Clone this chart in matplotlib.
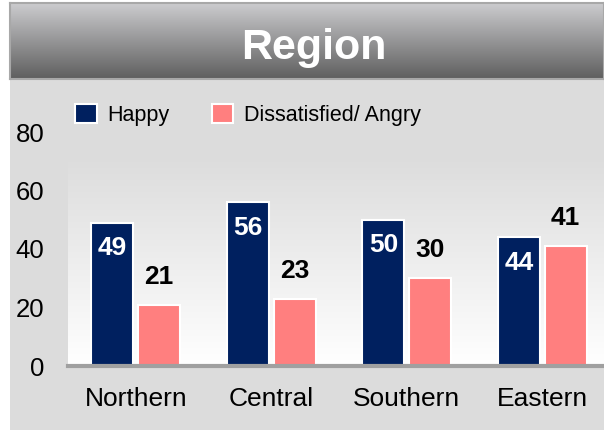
import numpy as np
import matplotlib
matplotlib.use("Agg")
import matplotlib.pyplot as plt

plt.rcParams['font.family'] = ['Liberation Sans', 'DejaVu Sans']

regions = ["Northern", "Central", "Southern", "Eastern"]
happy = [49, 56, 50, 44]
angry = [21, 23, 30, 41]
series_names = ["Happy", "Dissatisfied/ Angry"]
yticks = [0, 20, 40, 60, 80]

NAVY = "#00205f"
PINK = "#ff7f7f"
PANEL = "#dcdcdc"

W, H = 604, 430
fig = plt.figure(figsize=(W / 100, H / 100), dpi=100)
fig.patch.set_facecolor("white")

def fx(px):
    return px / W

def fy(py):
    return 1 - py / H

# light gray panel behind the chart
panel = fig.add_axes([fx(10), 0, 1 - fx(10), fy(79)])
panel.set_facecolor(PANEL)
panel.set_xticks([]); panel.set_yticks([])
for s in panel.spines.values():
    s.set_visible(False)

# title band with vertical gray gradient
band = fig.add_axes([fx(10), fy(79), 1 - fx(10), fy(3) - fy(79)])
grad = np.linspace(0, 1, 256).reshape(-1, 1)
top = np.array([0.80, 0.80, 0.81])
bot = np.array([0.37, 0.37, 0.37])
img = top + (bot - top) * grad[..., None]
band.imshow(img, aspect="auto", extent=[0, 1, 0, 1], origin="upper")
band.set_xlim(0, 1); band.set_ylim(0, 1)
band.set_xticks([]); band.set_yticks([])
for s in band.spines.values():
    s.set_color("#a8a8a8")
    s.set_linewidth(1.5)
fig.text(fx(314), fy(59), "Region", color="white", fontsize=31,
         fontweight="bold", ha="center", va="baseline")

# main plot
y0, y80 = 366, 132
ax = fig.add_axes([fx(68), fy(y0), 1 - fx(68) + 0.01, fy(y80) - fy(y0)])

# background gradient inside plot area: gray at top, white at bottom
bg = np.linspace(0, 1, 256).reshape(-1, 1)
c_top = np.array([0.863, 0.863, 0.863])
c_bot = np.array([1.0, 1.0, 1.0])
bgimg = c_top + (c_bot - c_top) * np.clip((bg - 0.05) / 0.95, 0, 1)[..., None]
ax.imshow(bgimg, aspect="auto", extent=[-0.52, 3.6, 0, 75.5], origin="upper", zorder=0)
ax.set_xlim(-0.5, 3.5)
ax.set_ylim(0, 80)
ax.patch.set_visible(False)

x = np.arange(len(regions))
bw = 0.31
gap = 0.035
ax.bar(x - bw / 2 - gap / 2, happy, bw, color=NAVY, edgecolor="white",
       linewidth=1.5, zorder=2, label=series_names[0])
ax.bar(x + bw / 2 + gap / 2, angry, bw, color=PINK, edgecolor="white",
       linewidth=1.5, zorder=2, label=series_names[1])

for xi, v in zip(x, happy):
    ax.text(xi - bw / 2 - gap / 2, v - 8.8, str(v), color="white", fontsize=19,
            fontweight="bold", ha="center", va="center", zorder=3)
for xi, v in zip(x, angry):
    ax.text(xi + bw / 2 + gap / 2, v + 9.5, str(v), color="black", fontsize=19,
            fontweight="bold", ha="center", va="center", zorder=3)

for s in ["top", "right", "left"]:
    ax.spines[s].set_visible(False)
ax.spines["bottom"].set_color("#a0a0a0")
ax.spines["bottom"].set_linewidth(3)
ax.spines["bottom"].set_zorder(4)

ax.set_yticks(yticks)
ax.set_yticklabels([str(t) for t in yticks], fontsize=18.5)
ax.tick_params(axis="y", length=0, pad=17)
ax.set_xticks(x)
ax.set_xticklabels(regions, fontsize=19)
ax.tick_params(axis="x", length=0, pad=15)

leg = ax.legend(loc="upper left", bbox_to_anchor=(fx(58), fy(87)),
                bbox_transform=fig.transFigure, ncol=2, frameon=False,
                fontsize=15.5, handlelength=1.0, handleheight=1.0,
                handletextpad=0.5, columnspacing=1.95, borderpad=0.3)
for h in leg.legend_handles:
    h.set_edgecolor("white")
    h.set_linewidth(1.5)

fig.savefig("out.png", dpi=100, facecolor=fig.get_facecolor())
